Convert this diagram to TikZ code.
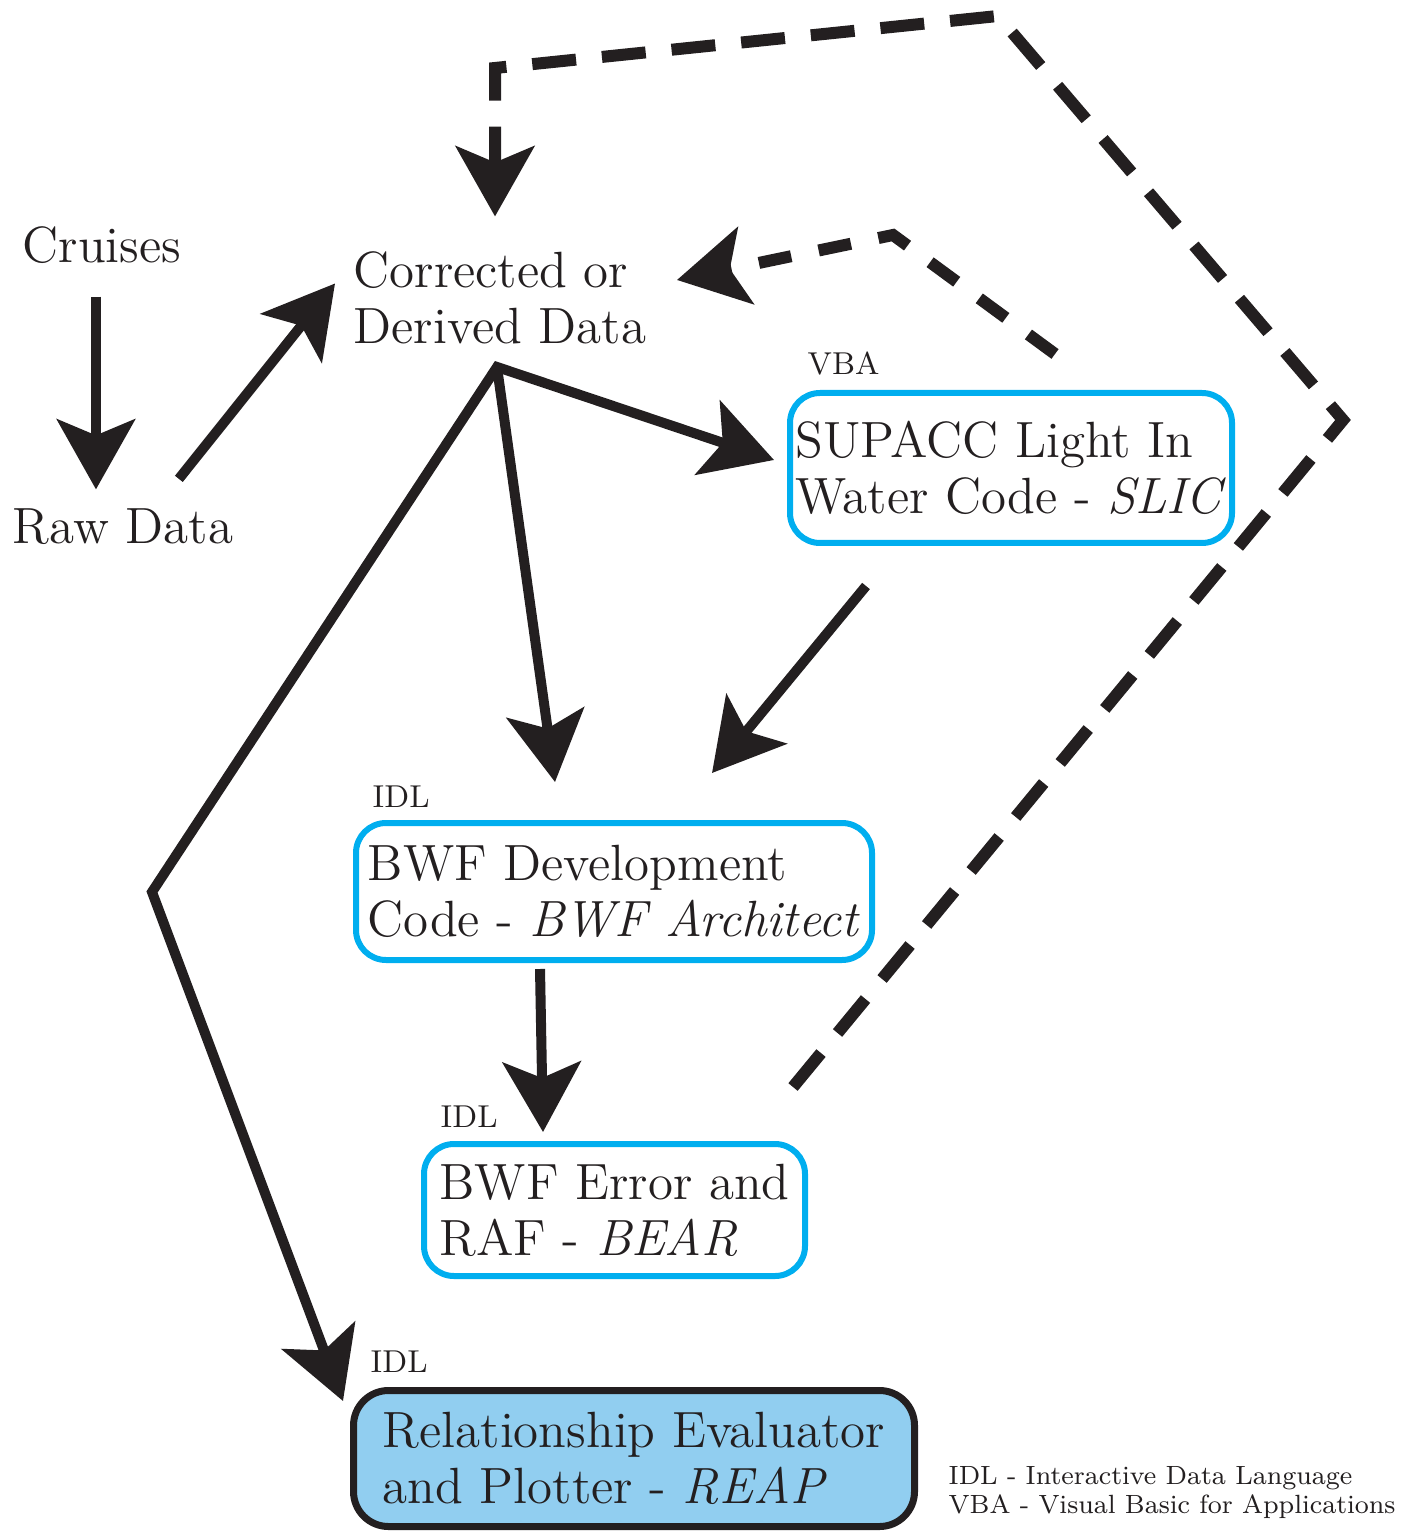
\documentclass[tikz,border=0pt]{standalone}
\usetikzlibrary{arrows.meta}
\definecolor{ink}{RGB}{35,31,32}
\definecolor{slicblue}{RGB}{0,174,239}
\definecolor{reapfill}{RGB}{145,206,240}
\tikzset{
  Head/.tip={Stealth[length=7mm,width=7.8mm,inset=1.6mm]},
  txt/.style={font=\fontsize{14.5}{16}\selectfont, text=ink, inner sep=0pt, align=left},
  tag/.style={font=\fontsize{9}{10}\selectfont, text=ink, inner sep=0pt, anchor=base west},
  prog/.style={txt, draw=slicblue, line width=0.6mm, rounded corners=3mm},
  flow/.style={draw=ink, line width=1mm, -Head},
  loop/.style={draw=ink, line width=1.2mm, dash pattern=on 4.4mm off 2.6mm, -Head},
}
\begin{document}
\begin{tikzpicture}
\useasboundingbox (0,0) rectangle (14.2,-15.34);
\node[txt, anchor=west] (cruises) at (0.22,-2.455) {Cruises};
\node[txt, anchor=west] (raw) at (0.12,-5.27) {Raw Data};
\node[txt, anchor=west] (corr) at (3.53,-2.975) {Corrected or\\Derived Data};
\node[prog, minimum width=4.42cm, minimum height=1.5cm] (slic) at (10.11,-4.68) {SUPACC Light In\\Water Code - \textit{SLIC}};
\node[prog, minimum width=5.16cm, minimum height=1.37cm] (bwf) at (6.14,-8.915) {BWF Development\\Code - \textit{BWF Architect}};
\node[prog, minimum width=3.81cm, minimum height=1.32cm] (bear) at (6.145,-12.10) {BWF Error and\\RAF - \textit{BEAR}};
\node[prog, draw=ink, fill=reapfill, line width=0.7mm, rounded corners=3.5mm, minimum width=5.61cm, minimum height=1.36cm] (reap) at (6.34,-14.585) {Relationship Evaluator\\and Plotter - \textit{REAP}};

\node[tag] (slictag) at (8.07,-3.75) {VBA};
\node[tag] (bwftag) at (3.72,-8.07) {IDL};
\node[tag] (beartag) at (4.40,-11.27) {IDL};
\node[tag] (reaptag) at (3.70,-13.72) {IDL};
\node[font=\fontsize{7.5}{8.3}\selectfont, text=ink, inner sep=0pt, align=left, anchor=west] (legend) at (9.48,-14.925) {IDL - Interactive Data Language\\VBA - Visual Basic for Applications};

\coordinate (fork) at (4.97,-3.67);
\coordinate (bend) at (1.52,-8.92);
\coordinate (turn) at (4.95,-0.68);

\draw[flow] ([xshift=-0.6mm,yshift=-3.2mm]cruises.south) -- ([xshift=-0.6mm,yshift=1.9mm]cruises.south |- raw.north);
\draw[flow] ([xshift=-5.5mm,yshift=2.95mm]raw.north east) -- ([xshift=-1.8mm,yshift=1.4mm]corr.west);
\draw[flow, Head-Head] ([xshift=-1.3mm,yshift=0.8mm]slic.west) -- (fork) -- (bend) -- ([xshift=-0.7mm,yshift=-1.4mm]reap.north west);
\draw[flow] (fork) -- ([xshift=-5.9mm,yshift=3.8mm]bwf.north);
\draw[flow] ([xshift=-14.5mm,yshift=-4mm]slic.south) -- ([xshift=9.8mm,yshift=4.7mm]bwf.north);
\draw[flow] ([xshift=-7.4mm,yshift=-0.6mm]bwf.south) -- ([xshift=-7.15mm,yshift=0.9mm]bear.north);

\draw[loop] ([xshift=-1.5mm,yshift=5.4mm]bear.north east) -- (13.43,-4.20) -- (9.98,-0.16) -- (turn) -- ([yshift=3.4mm]corr.north -| turn);
\draw[loop, dash pattern=on 3.3mm off 2.8mm] ([xshift=4.4mm,yshift=3.6mm]slic.north) -- (8.93,-2.35) -- ([xshift=3mm,yshift=1.75mm]corr.east);
\end{tikzpicture}
\end{document}
